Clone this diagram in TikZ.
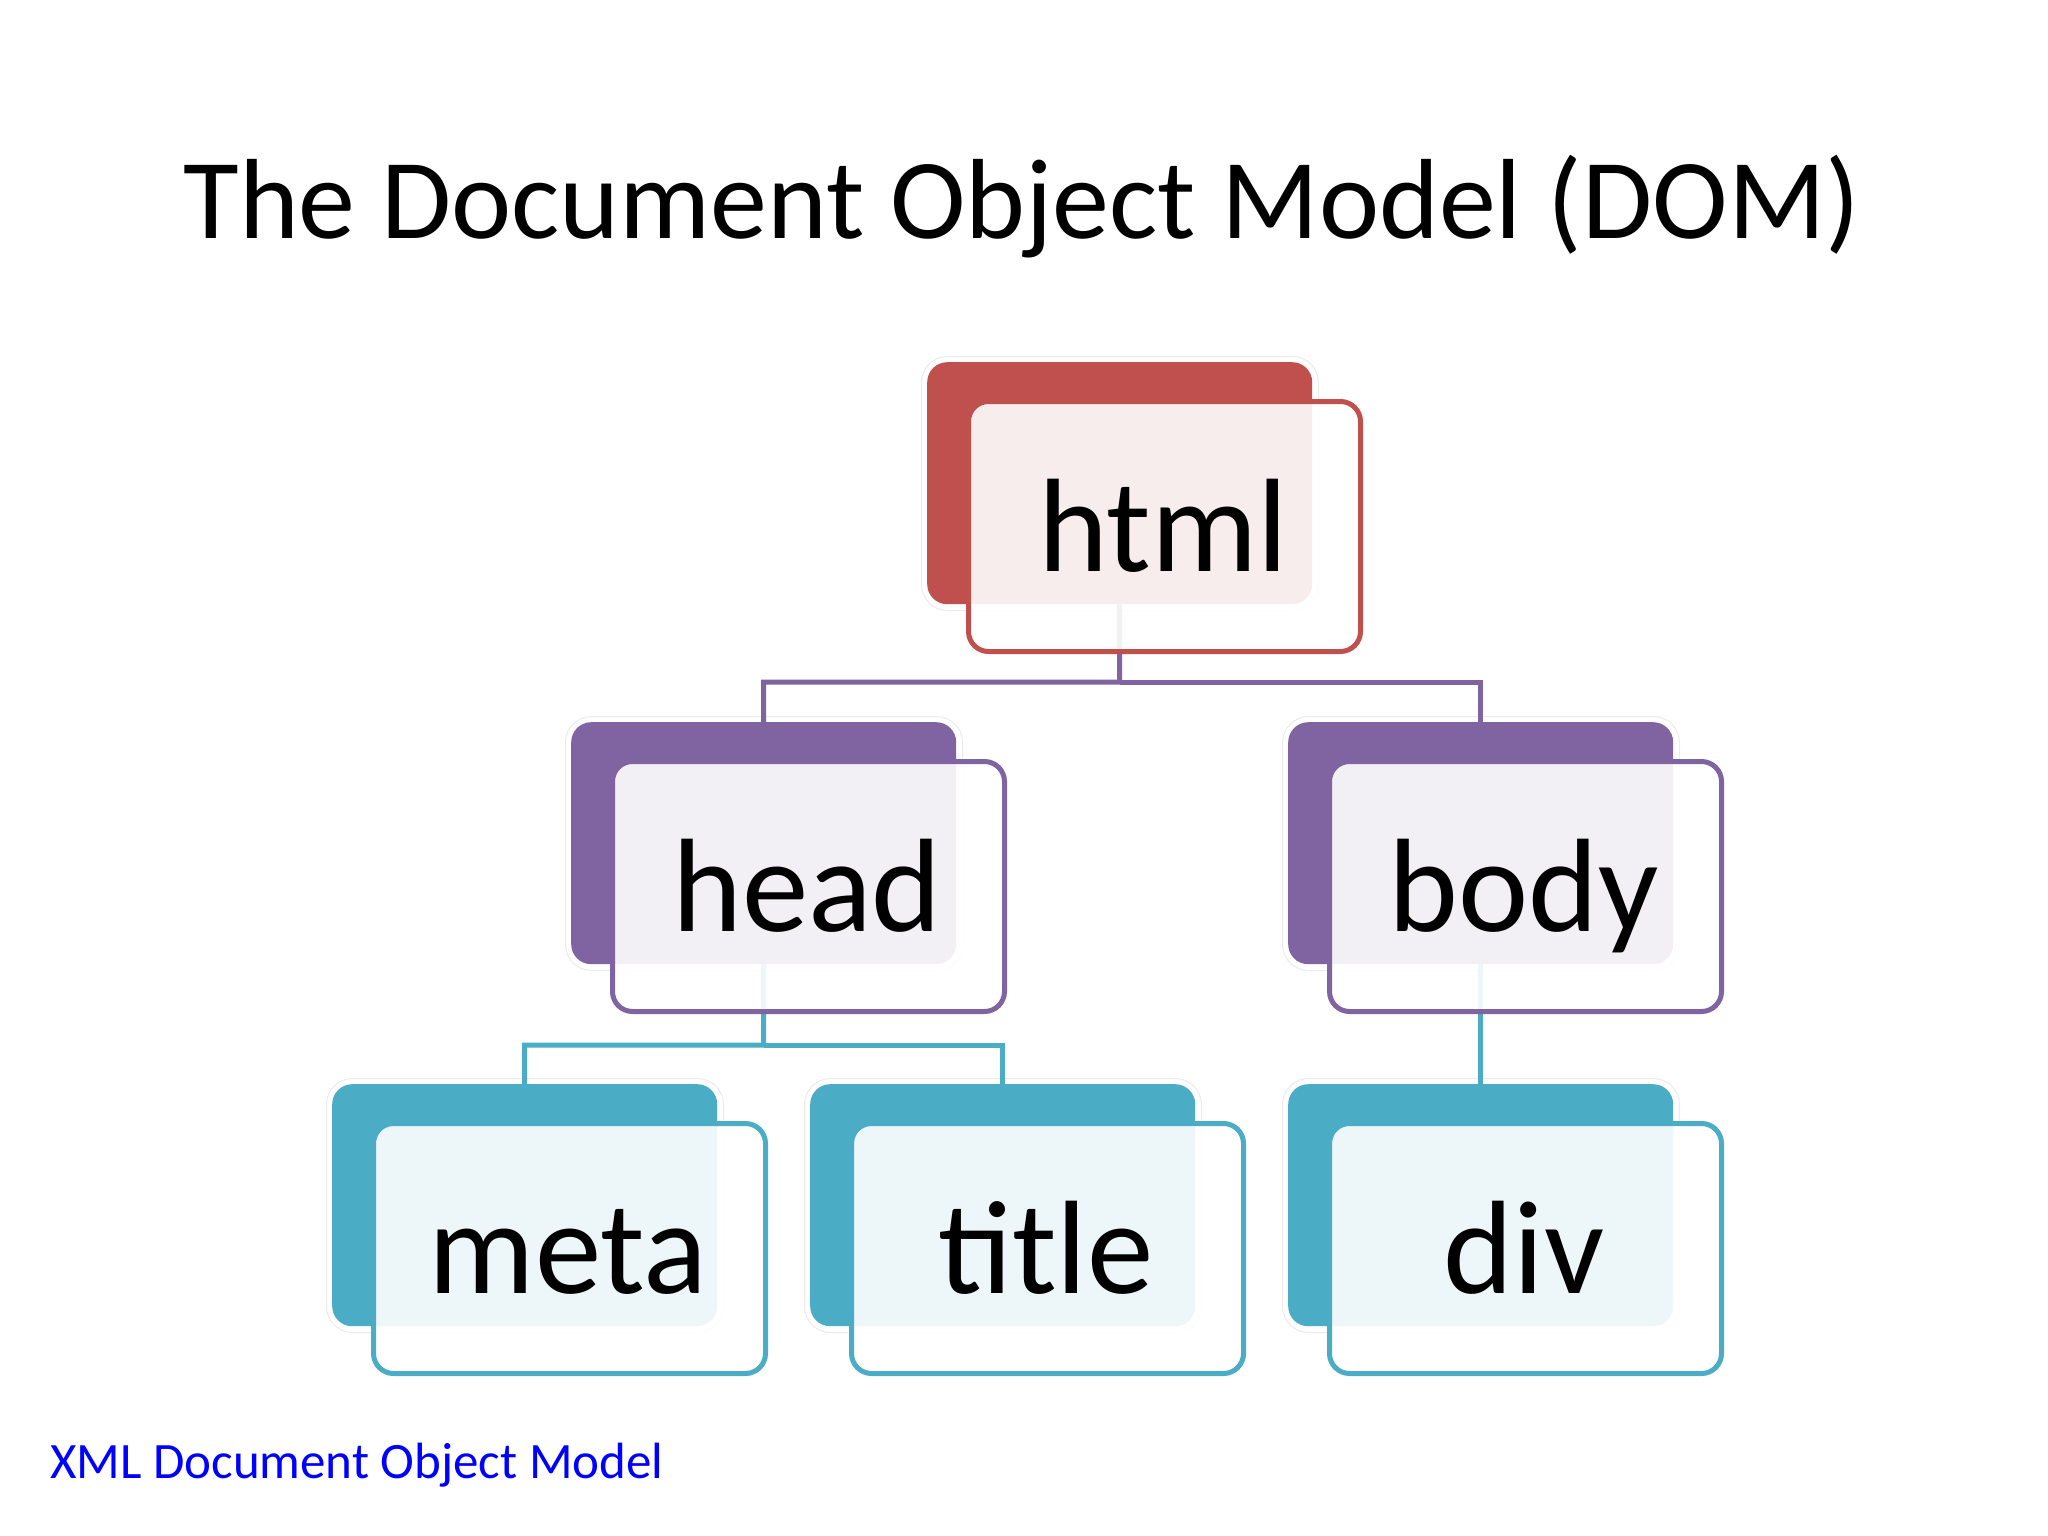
\documentclass[tikz,border=0pt]{standalone}
\usepackage{fontspec}
\setmainfont{Carlito}
\definecolor{cred}{HTML}{C0504D}
\definecolor{cpurple}{HTML}{8064A2}
\definecolor{cteal}{HTML}{4BACC6}
\definecolor{linkblue}{HTML}{0000FF}
\tikzset{
  backbox/.style={draw=none, fill=#1, rounded corners=20pt, minimum width=385pt, minimum height=242pt, inner sep=0pt, anchor=north west},
  frontbox/.style={draw=#1, line width=5pt, fill=white, fill opacity=0.9, rounded corners=20pt, minimum width=392pt, minimum height=250pt, inner sep=0pt, anchor=north west},
  halo/.style={draw=black!8, line width=1pt, fill=white, rounded corners=26pt, minimum width=397pt, minimum height=254pt, inner sep=0pt, anchor=north west},
  cardtext/.style={anchor=base, inner sep=0pt, font=\fontsize{133}{150}\selectfont},
  conn/.style={draw=#1, line width=5pt},
}
\newcommand{\domcard}[4]{% name, x, y, color
  \node[halo] (#1h) at (#2-6,#3-6) {};
  \node[backbox=#4] (#1b) at (#2,#3) {};
}
\newcommand{\domfront}[5]{% name, x, y, color, text
  \node[frontbox=#4] (#1f) at (#2+39,#3+37) {};
  \node[cardtext] (#1) at (#2+236,#3+209) {#5};
}
\begin{document}
\begin{tikzpicture}[x=1pt,y=-1pt]
\useasboundingbox (0,0) rectangle (2048,1536);
\fill[white] (0,0) rectangle (2048,1536);
\node[anchor=base, inner sep=0pt, font=\fontsize{114}{130}\selectfont] (ttl) at (1022,238) {The Document Object Model (DOM)};
% back cards
\domcard{html}{927}{362}{cred}
\domcard{head}{571}{722}{cpurple}
\domcard{body}{1288}{722}{cpurple}
\domcard{meta}{332}{1084}{cteal}
\domcard{title}{810}{1084}{cteal}
\domcard{div}{1288}{1084}{cteal}
% connectors
\coordinate (j1) at (1119.5,682);
\coordinate (j2) at (763.5,1045);
\draw[conn=cpurple] (htmlb.south) -- (j1) -| (headb.north);
\draw[conn=cpurple] (j1) -| (bodyb.north);
\draw[conn=cteal] (headb.south) -- (j2) -| (metab.north);
\draw[conn=cteal] (j2) -| (titleb.north);
\draw[conn=cteal] (bodyb.south) -- (divb.north);
% front cards
\domfront{html}{927}{362}{cred}{html}
\domfront{head}{571}{722}{cpurple}{head}
\domfront{body}{1288}{722}{cpurple}{body}
\domfront{meta}{332}{1084}{cteal}{meta}
\domfront{title}{810}{1084}{cteal}{title}
\domfront{div}{1288}{1084}{cteal}{div}
\node[anchor=base west, inner sep=0pt, text=linkblue, font=\fontsize{51}{60}\selectfont] (foot) at (50,1478) {XML Document Object Model};
\end{tikzpicture}
\end{document}
